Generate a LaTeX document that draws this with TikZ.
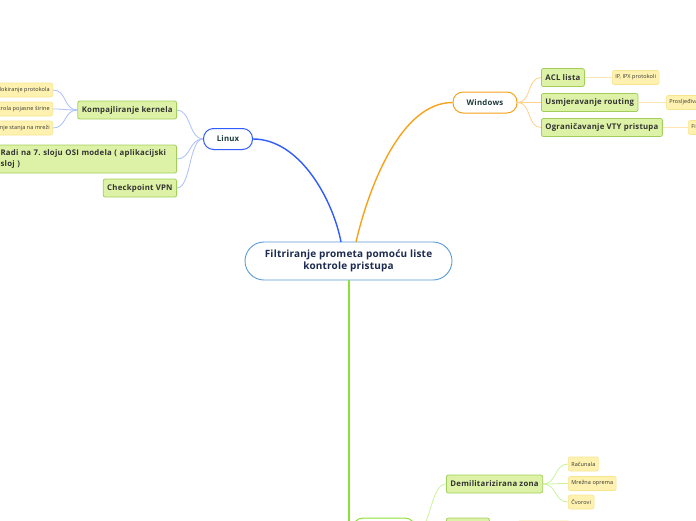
\documentclass[tikz,border=0pt]{standalone}
\usepackage{fontspec}
\setmainfont{Open Sans}
\usepackage{xcolor}
\usetikzlibrary{positioning}
\definecolor{rootline}{HTML}{5B9BD5}
\definecolor{roottext}{HTML}{1B2A4E}
\definecolor{linuxblue}{HTML}{2F5BFF}
\definecolor{linuxsub}{HTML}{A9BEFA}
\definecolor{winorange}{HTML}{F7A21B}
\definecolor{winsub}{HTML}{FFD28C}
\definecolor{winleaf}{HTML}{FFE3B3}
\definecolor{netgreen}{HTML}{8CE234}
\definecolor{netsub}{HTML}{C9F49C}
\definecolor{topicgreen}{HTML}{DDF2A6}
\definecolor{topicedge}{HTML}{A2CF5C}
\definecolor{leafyellow}{HTML}{FFF2B0}
\definecolor{leafedge}{HTML}{F6E48F}
\definecolor{darktext}{HTML}{1E3B3B}
\definecolor{topictext}{HTML}{333333}
\tikzset{
  rootnode/.style={draw=rootline,fill=white,line width=0.9pt,rounded corners=19pt,
    minimum width=207pt,minimum height=38pt,align=center,text=roottext,
    font=\fontsize{10}{12.5}\selectfont\bfseries\addfontfeatures{LetterSpace=2}},
  mainnode/.style={fill=white,line width=1pt,rounded corners=10pt,minimum height=21pt,
    text=darktext,font=\fontsize{7.8}{9}\selectfont\bfseries\addfontfeatures{LetterSpace=3}},
  topicnode/.style={draw=topicedge,fill=topicgreen,line width=0.8pt,rounded corners=2pt,
    minimum height=18pt,inner xsep=4pt,text=topictext,
    font=\fontsize{7.8}{10}\selectfont\bfseries\addfontfeatures{LetterSpace=3}},
  leafnode/.style={draw=leafedge,fill=leafyellow,line width=0.6pt,rounded corners=2pt,
    minimum height=14pt,inner xsep=3pt,text=black!80,
    font=\fontsize{5.5}{6}\selectfont\addfontfeatures{LetterSpace=2}},
  mainbranch/.style={line width=1.4pt},
  subbranch/.style={line width=0.8pt}
}
\begin{document}
\frenchspacing
\begin{tikzpicture}[x=1pt,y=-1pt]
  \useasboundingbox (0,0) rectangle (696,520);
  \clip (0,0) rectangle (696,520);
  % centre and main topics
  \node[rootnode] (root) at (348.5,261) {Filtriranje prometa pomoću liste\\kontrole pristupa};
  \node[mainnode,draw=linuxblue,minimum width=49pt] (linux) at (228,139) {Linux};
  \node[mainnode,draw=winorange,minimum width=64pt] (windows) at (485,102.5) {Windows};
  \node[mainnode,draw=netgreen,minimum width=62pt,minimum height=26pt] (net) at (384,531) {};
  \coordinate (rootL) at (341,242);
  \coordinate (rootW) at (356,242);
  \coordinate (rootN) at (349,280);
  \draw[mainbranch,linuxblue] (rootL) .. controls (333,200) and (300,139) .. (linux.east);
  \draw[mainbranch,winorange] (rootW) .. controls (368,190) and (400,102.5) .. (windows.west);
  \draw[mainbranch,netgreen] (rootN) -- (349,531) -- (net.west);
  % Linux
  \node[topicnode,anchor=east] (kernel) at (177,110) {Kompajliranje kernela};
  \node[topicnode,anchor=east,text width=172pt,align=left,minimum height=28pt,
    font=\fontsize{7.8}{11}\selectfont\bfseries\addfontfeatures{LetterSpace=3}] (osi) at (177,159)
    {Radi na 7. sloju OSI modela ( aplikacijski\\sloj )};
  \node[topicnode,anchor=east] (vpn) at (177,188) {Checkpoint VPN};
  \foreach \t in {kernel,osi,vpn}
    \draw[subbranch,linuxsub] (linux.west) .. controls +(-14,0) and +(14,0) .. (\t.east);
  \node[leafnode,anchor=east] (blok) at (53,90) {Blokiranje protokola};
  \node[leafnode,anchor=east] (pojas) at (53,109) {Kontrola pojasne širine};
  \node[leafnode,anchor=east] (stanje) at (53,128) {Praćenje stanja na mreži};
  \foreach \t in {blok,pojas,stanje}
    \draw[subbranch,linuxsub] (kernel.west) .. controls +(-14,0) and +(14,0) .. (\t.east);
  % Windows
  \node[topicnode,anchor=west] (acl) at (541,77.5) {ACL lista};
  \node[topicnode,anchor=west] (routing) at (541,102.5) {Usmjeravanje routing};
  \node[topicnode,anchor=west] (vty) at (541,127.5) {Ograničavanje VTY pristupa};
  \foreach \t in {acl,routing,vty}
    \draw[subbranch,winsub] (windows.east) .. controls +(14,0) and +(-14,0) .. (\t.west);
  \node[leafnode,anchor=west] (ipx) at (612,77.5) {IP, IPX protokoli};
  \node[leafnode,anchor=west] (proslj) at (666,102.5) {Prosljeđivanje paketa};
  \node[leafnode,anchor=west] (filt) at (688,127.5) {Filtriranje};
  \draw[subbranch,winleaf] (acl.east) -- (ipx.west);
  \draw[subbranch,winleaf] (routing.east) -- (proslj.west);
  \draw[subbranch,winleaf] (vty.east) -- (filt.west);
  % mreza
  \node[topicnode,anchor=west] (dmz) at (446,484) {Demilitarizirana zona};
  \node[topicnode,anchor=west,minimum width=43pt,minimum height=20pt] (zona2) at (446,528) {};
  \node[leafnode,anchor=west,minimum width=53pt] (leaf2) at (517,528) {};
  \draw[subbranch,netsub] (net.east) .. controls +(16,0) and +(-16,0) .. (dmz.west);
  \draw[subbranch,netsub] (net.east) -- (zona2.west);
  \draw[subbranch,netsub] (zona2.east) -- (leaf2.west);
  \node[leafnode,anchor=west] (rac) at (568,464) {Računala};
  \node[leafnode,anchor=west] (oprema) at (568,483.5) {Mrežna oprema};
  \node[leafnode,anchor=west] (cvor) at (568,502) {Čvorovi};
  \foreach \t in {rac,oprema,cvor}
    \draw[subbranch,netsub] (dmz.east) .. controls +(14,0) and +(-14,0) .. (\t.west);
\end{tikzpicture}
\end{document}
